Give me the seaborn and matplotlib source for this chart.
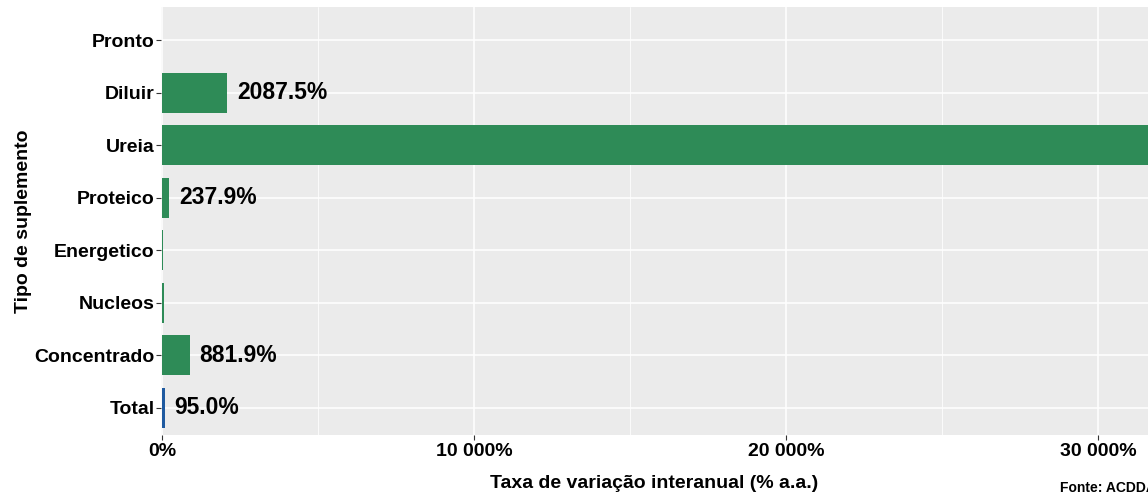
import numpy as np
import pandas as pd
import matplotlib
matplotlib.use("Agg")
import matplotlib.pyplot as plt
import seaborn as sns

# ---- data ----
categories = ["Pronto", "Diluir", "Ureia", "Proteico", "Energetico", "Nucleos", "Concentrado", "Total"]
values = [np.nan, 2087.5, 38000.0, 237.9, 45.0, 55.0, 881.9, 95.0]
groups = ["Tipo", "Tipo", "Tipo", "Tipo", "Tipo", "Tipo", "Tipo", "Total"]
labels = ["", "2087.5%", "38000.0%", "237.9%", "", "", "881.9%", "95.0%"]
x_ticks = [0, 10000, 20000, 30000]
x_ticklabels = ["0%", "10 000%", "20 000%", "30 000%"]
x_minor = [5000, 15000, 25000]

df = pd.DataFrame({"cat": categories, "val": values, "grp": groups})

sns.set_theme(style="darkgrid")
plt.rcParams["font.family"] = ["Liberation Sans", "DejaVu Sans"]

W, H = 1148, 492
fig = plt.figure(figsize=(W / 100, H / 100), dpi=100)
left_px, right_px, top_px, bot_px = 161, 1148, 7, 435
ax = fig.add_axes([left_px / W, 1 - bot_px / H, (right_px - left_px) / W, (bot_px - top_px) / H])
ax.set_facecolor("#EBEBEB")

sns.barplot(data=df, y="cat", x="val", hue="grp", order=categories,
            palette={"Tipo": "#2E8B57", "Total": "#1F5AA0"},
            width=0.76, dodge=False, legend=False, ax=ax, saturation=1,
            edgecolor="none", zorder=3)

for i, (v, lab) in enumerate(zip(values, labels)):
    if lab and not np.isnan(v):
        ax.annotate(lab, xy=(v, i), xytext=(7, 0), textcoords="offset points",
                    ha="left", va="center", fontsize=16.5, fontweight="bold",
                    color="black", clip_on=True, annotation_clip=True)

ax.set_xlim(-32, 31603)
ax.set_ylim(7.514, -0.628)
ax.set_xticks(x_ticks)
ax.set_xticklabels(x_ticklabels)
ax.set_xticks(x_minor, minor=True)
ax.grid(which="major", color="white", linewidth=1.1, zorder=0)
ax.grid(which="minor", axis="x", color="white", linewidth=0.55, zorder=0)
ax.set_axisbelow(True)
for s in ax.spines.values():
    s.set_visible(False)

ax.tick_params(axis="y", which="major", length=3.5, width=0.8, color="#333333",
               labelsize=14, labelcolor="black", pad=1, left=True)
ax.tick_params(axis="x", which="major", length=3.5, width=0.8, color="#333333",
               labelsize=14, labelcolor="black", pad=2, bottom=True)
ax.tick_params(axis="both", which="minor", length=0)
for t in ax.get_xticklabels() + ax.get_yticklabels():
    t.set_fontweight("bold")

ax.set_xlabel("Taxa de variação interanual (% a.a.)", fontsize=14, fontweight="bold",
              labelpad=11, color="black")
ax.set_ylabel("Tipo de suplemento", fontsize=14, fontweight="bold", labelpad=2, color="black")

fig.text(1060 / W, 4 / H, "Fonte: ACDDA", fontsize=10, fontweight="bold", ha="left", va="center",
         color="black")

fig.savefig("out.png", dpi=100)
